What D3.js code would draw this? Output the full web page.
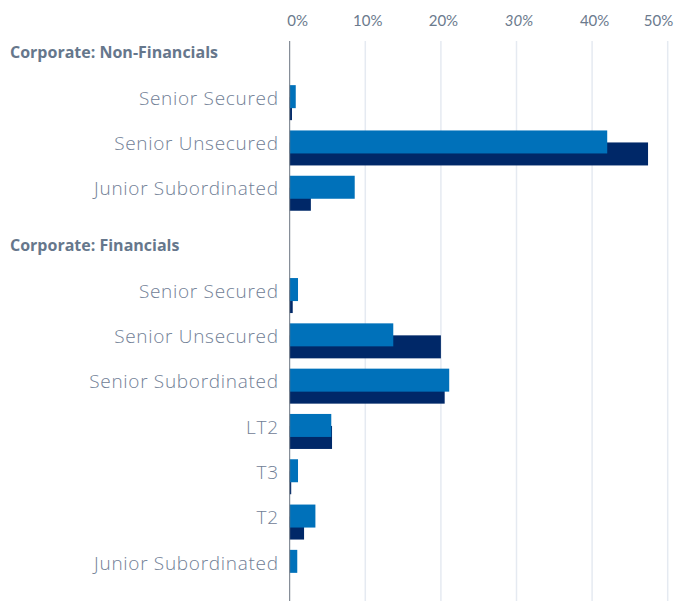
<!DOCTYPE html>
<html>
<head>
<meta charset="utf-8">
<script src="https://d3js.org/d3.v7.min.js"></script>
<style>
  body { margin: 0; background: #fff; }
  svg { display: block; font-family: "Open Sans", sans-serif; }
</style>
</head>
<body>
<div id="chart"></div>
<script>
// values in percent
const groupNames = ["Corporate: Non-Financials", "Corporate: Financials"]
const nonFinCats = ["Senior Secured", "Senior Unsecured", "Junior Subordinated"]
const nonFinLight = [0.8, 42.0, 8.6]
const nonFinDark = [0.3, 47.4, 2.8]
const finCats = ["Senior Secured", "Senior Unsecured", "Senior Subordinated", "LT2", "T3", "T2", "Junior Subordinated"]
const finLight = [1.1, 13.7, 21.1, 5.5, 1.1, 3.4, 1.0]
const finDark = [0.4, 20.0, 20.5, 5.6, 0.2, 1.9, 0]
const tickValues = [0, 10, 20, 30, 40, 50]
const seriesKeys = ["light", "dark"]

const width = 677, height = 601
const topY = 23, headerH = 57, step = 45.3
const colors = {light: "#0071BA", dark: "#002868"}
const textColor = "#6b7a8d"

const groups = [
    {name: groupNames[0], cats: nonFinCats, light: nonFinLight, dark: nonFinDark},
    {name: groupNames[1], cats: finCats, light: finLight, dark: finDark}
]

const svg = d3.select("#chart")
    .append("svg")
    .attr("width", width)
    .attr("height", height)

const x = d3.scaleLinear()
    .domain([0, 50])
    .range([289.7, 667.7])

// gridlines
svg.append("g")
    .selectAll("line")
    .data(tickValues.slice(1))
    .enter()
    .append("line")
        .attr("x1", d => x(d))
        .attr("x2", d => x(d))
        .attr("y1", 41)
        .attr("y2", height)
        .attr("stroke", "#e5eaf1")
        .attr("stroke-width", 1.5)

// top axis labels
const axis = svg.append("g")
    .attr("transform", "translate(0,26)")
    .call(d3.axisTop(x).tickValues(tickValues).tickSize(0).tickFormat(d => d + "%"))
axis.select(".domain").remove()
axis.selectAll("text")
    .attr("fill", textColor)
    .attr("y", 0)
    .style("font-size", "15px")
    .style("font-family", "Lato, sans-serif")
    .style("font-style", d => d === 30 ? "italic" : "normal")
    .attr("text-anchor", (d, i) => i === 0 ? "start" : i === tickValues.length - 1 ? "end" : "middle")
    .attr("dx", (d, i) => i === 0 ? -3 : i === tickValues.length - 1 ? 5 : 2)

const sub = d3.scalePoint().domain(seriesKeys).range([-6, 6])
const barH = 23

let y0 = topY
groups.forEach(g => {
    const y = d3.scaleBand()
        .domain(g.cats)
        .range([y0 + headerH, y0 + headerH + g.cats.length * step])

    svg.append("text")
        .attr("x", 10)
        .attr("y", y0 + 29)
        .attr("dy", "0.35em")
        .attr("fill", "#66778c")
        .style("font-size", "16px")
        .style("font-weight", "bold")
        .style("font-family", "'Open Sans', sans-serif")
        .text(g.name)

    const rows = g.cats.map((c, i) => ({cat: c, light: g.light[i], dark: g.dark[i]}))

    const row = svg.append("g")
        .selectAll("g")
        .data(rows)
        .enter()
        .append("g")
            .attr("transform", d => `translate(0,${y(d.cat) + y.bandwidth() / 2})`)

    row.append("text")
        .attr("x", x(0) - 11)
        .attr("y", -4.5)
        .attr("dy", "0.35em")
        .attr("text-anchor", "end")
        .attr("fill", "#718096")
        .style("font-size", "19px")
        .style("font-weight", 300)
        .style("letter-spacing", "0.7px")
        .text(d => d.cat)

    ;["dark", "light"].forEach(k => {
        row.append("rect")
            .attr("x", x(0))
            .attr("y", sub(k) - barH / 2)
            .attr("width", d => x(d[k]) - x(0))
            .attr("height", barH)
            .attr("fill", colors[k])
    })

    y0 += headerH + g.cats.length * step
})

// vertical axis line
svg.append("line")
    .attr("x1", x(0))
    .attr("x2", x(0))
    .attr("y1", 41)
    .attr("y2", height)
    .attr("stroke", "#6b7480")
    .attr("stroke-width", 1)
</script>
</body>
</html>
